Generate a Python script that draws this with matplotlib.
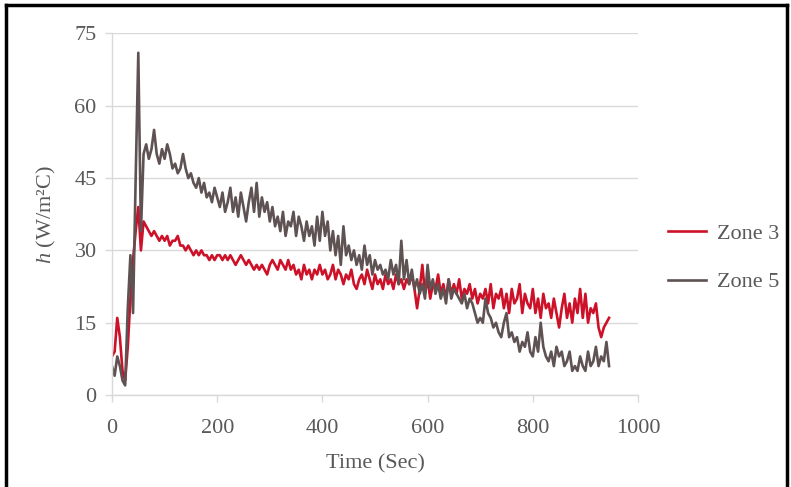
import matplotlib
matplotlib.use('Agg')
import matplotlib.pyplot as plt
from matplotlib.lines import Line2D

# time axis (sec), one reading every 5 s
time = list(range(0, 950, 5))

zone3 = [8, 9, 16, 12, 5, 3, 10, 20, 28, 34,
         39, 30, 36, 35, 34, 33, 34, 33, 32, 33,
         32, 33, 31, 32, 32, 33, 31, 31, 30, 31,
         30, 29, 30, 29, 30, 29, 29, 28, 29, 28,
         29, 29, 28, 29, 28, 29, 28, 27, 28, 29,
         28, 27, 28, 27, 26, 27, 26, 27, 26, 25,
         27, 28, 27, 26, 28, 27, 26, 28, 26, 27,
         25, 26, 24, 27, 25, 26, 24, 26, 25, 27,
         25, 26, 24, 25, 27, 24, 26, 25, 23, 25,
         24, 26, 23, 22, 24, 25, 23, 26, 24, 22,
         25, 23, 24, 22, 25, 23, 24, 22, 25, 23,
         24, 22, 24, 23, 25, 22, 18, 22, 27, 21,
         24, 20, 23, 22, 25, 21, 23, 20, 24, 21,
         23, 21, 24, 20, 22, 21, 23, 20, 22, 19,
         21, 20, 22, 19, 23, 18, 21, 20, 22, 18,
         21, 17, 22, 19, 20, 23, 17, 21, 19, 18,
         22, 17, 20, 16, 21, 18, 19, 16, 20, 17,
         14, 18, 21, 16, 19, 15, 20, 17, 22, 16,
         21, 15, 18, 17, 19, 14, 12, 14, 15, 16]

zone5 = [6, 4, 8, 6, 3, 2, 18, 29, 17, 45,
         71, 34, 50, 52, 49, 51, 55, 50, 48, 51,
         49, 52, 50, 47, 48, 46, 47, 50, 47, 45,
         46, 44, 43, 45, 42, 44, 41, 42, 40, 43,
         41, 39, 42, 38, 40, 43, 38, 41, 37, 42,
         39, 36, 40, 43, 38, 44, 37, 41, 38, 40,
         36, 39, 35, 37, 34, 38, 33, 36, 35, 38,
         33, 37, 35, 32, 36, 33, 35, 31, 37, 32,
         38, 33, 36, 30, 34, 29, 33, 27, 35, 29,
         31, 28, 30, 27, 29, 26, 31, 27, 29, 25,
         28, 26, 27, 25, 26, 24, 28, 25, 27, 23,
         32, 24, 28, 23, 26, 22, 24, 21, 23, 20,
         27, 22, 24, 21, 23, 20, 22, 19, 24, 20,
         22, 21, 20, 19, 21, 18, 20, 19, 17, 15,
         16, 15, 20, 17, 16, 14, 15, 13, 12, 15,
         17, 12, 13, 11, 12, 9, 11, 10, 13, 9,
         8, 12, 9, 15, 10, 8, 7, 9, 6, 10,
         8, 9, 6, 7, 9, 5, 6, 5, 8, 6,
         5, 9, 6, 7, 10, 6, 8, 7, 11, 6]

series_names = ['Zone 3', 'Zone 5']
series_colors = ['#cc1128', '#5e5252']
yticks = [0, 15, 30, 45, 60, 75]
xticks = [0, 200, 400, 600, 800, 1000]

plt.rcParams['font.family'] = 'Liberation Serif'
plt.rcParams['mathtext.fontset'] = 'custom'
plt.rcParams['mathtext.rm'] = 'Liberation Serif'
plt.rcParams['mathtext.it'] = 'Liberation Serif:italic'

txt = '#595959'
grid = '#d9d9d9'
fs = 16

fig = plt.figure(figsize=(7.91, 4.87), dpi=100)
ax = fig.add_axes([112/791, 1 - 395/487, 526/791, 361.5/487])

for vals, name, col in zip([zone3, zone5], series_names, series_colors):
    ax.plot(time, vals, color=col, lw=1.9, label=name)

ax.set_xlim(0, 1000)
ax.set_ylim(0, 75)
ax.set_xticks(xticks)
ax.set_yticks(yticks)
ax.yaxis.grid(True, color=grid, lw=1)
ax.set_axisbelow(True)

for s in ['top', 'right']:
    ax.spines[s].set_visible(False)
for s in ['left', 'bottom']:
    ax.spines[s].set_color(grid)
    ax.spines[s].set_linewidth(1)

ax.tick_params(axis='x', colors=grid, length=5, width=1, pad=12,
               labelcolor=txt, labelsize=fs)
ax.tick_params(axis='y', colors=grid, length=5, width=1, pad=6,
               labelcolor=txt, labelsize=fs)

ax.set_xlabel('Time (Sec)', color=txt, fontsize=fs, labelpad=12)
ax.set_ylabel(r'$h$ (W/m²C)', color=txt, fontsize=fs, labelpad=12)

leg = fig.legend(loc='center left', bbox_to_anchor=(668/791, 1 - 258/487),
                 frameon=False, fontsize=fs, handlelength=1.7,
                 handletextpad=0.5, labelspacing=1.25, borderpad=0,
                 borderaxespad=0)
for t in leg.get_texts():
    t.set_color(txt)

# black frame around the picture (left, top, right)
bw = 2.5
fig.add_artist(Line2D([6/791, 6/791], [0, 1 - 5/487], color='black', lw=bw,
                      transform=fig.transFigure))
fig.add_artist(Line2D([6/791, 787/791], [1 - 5/487, 1 - 5/487], color='black',
                      lw=bw, transform=fig.transFigure))
fig.add_artist(Line2D([787/791, 787/791], [0, 1 - 5/487], color='black', lw=bw,
                      transform=fig.transFigure))

fig.savefig('out.png', dpi=100)
